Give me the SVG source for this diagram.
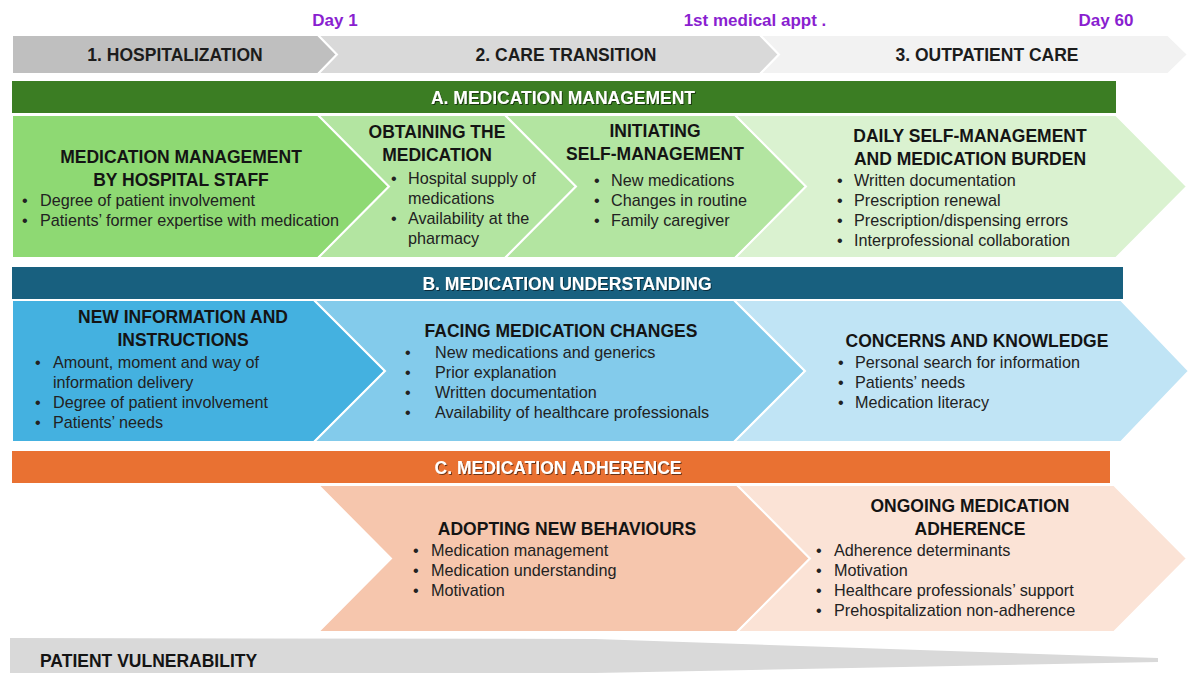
<svg xmlns="http://www.w3.org/2000/svg" width="1190" height="673" viewBox="0 0 1190 673">
  <defs>
    <filter id="shadow" x="-5%" y="-30%" width="110%" height="160%">
      <feDropShadow dx="1" dy="1" stdDeviation="0.7" flood-color="#000" flood-opacity="0.55"/>
    </filter>
    <style>
      text { font-family: "Liberation Sans", Arial, sans-serif; fill: #141414; }
      .day { font-size: 17px; font-weight: bold; fill: #8a1fd0; text-anchor: middle; }
      .tl { font-size: 17.5px; font-weight: bold; text-anchor: middle; fill: #1c1c1c; }
      .band { font-size: 17.5px; font-weight: bold; text-anchor: middle; fill: #ffffff; filter: url(#shadow); }
      .h { font-size: 17.5px; font-weight: bold; text-anchor: middle; }
      .b { font-size: 16.2px; fill: #222; }
      .sep { stroke: #ffffff; stroke-width: 2; stroke-linejoin: miter; }
    </style>
  </defs>

  <rect x="0" y="0" width="1190" height="673" fill="#ffffff"/>

  <!-- milestones -->
  <g id="milestones">
    <text class="day" x="335" y="26">Day 1</text>
    <text class="day" x="755" y="26">1st medical appt .</text>
    <text class="day" x="1106" y="26">Day 60</text>
  </g>

  <!-- phase timeline -->
  <g id="phase-hospitalization">
    <polygon class="sep" fill="#bfbfbf" points="12,35 318,35 337,54.5 318,74 12,74"/>
    <text class="tl" x="175" y="61">1. HOSPITALIZATION</text>
  </g>
  <g id="phase-care-transition">
    <polygon class="sep" fill="#d9d9d9" points="318,35 760,35 779,54.5 760,74 318,74 337,54.5"/>
    <text class="tl" x="566" y="61">2. CARE TRANSITION</text>
  </g>
  <g id="phase-outpatient">
    <polygon class="sep" fill="#f2f2f2" points="760,35 1168,35 1188,54.5 1168,74 760,74 779,54.5"/>
    <text class="tl" x="987" y="61">3. OUTPATIENT CARE</text>
  </g>

  <!-- A. medication management -->
  <g id="band-a">
    <rect x="12" y="81" width="1104" height="32" fill="#3b7d23"/>
    <text class="band" x="563" y="104">A. MEDICATION MANAGEMENT</text>
  </g>
  <g id="a1">
    <polygon class="sep" fill="#8ed973" points="12,115 318,115 389,186.5 318,258 12,258"/>
    <text class="h" x="181" y="163">MEDICATION MANAGEMENT</text>
    <text class="h" x="181" y="186">BY HOSPITAL STAFF</text>
    <text class="b" y="206"><tspan x="22">•</tspan><tspan x="40">Degree of patient involvement</tspan></text>
    <text class="b" y="226"><tspan x="22">•</tspan><tspan x="40">Patients’ former expertise with medication</tspan></text>
  </g>
  <g id="a2">
    <polygon class="sep" fill="#b3e5a1" points="318,115 505,115 576,186.5 505,258 318,258 389,186.5"/>
    <text class="h" x="437" y="138">OBTAINING THE</text>
    <text class="h" x="437" y="161">MEDICATION</text>
    <text class="b" y="184"><tspan x="391">•</tspan><tspan x="408">Hospital supply of</tspan></text>
    <text class="b" x="408" y="204">medications</text>
    <text class="b" y="224"><tspan x="391">•</tspan><tspan x="408">Availability at the</tspan></text>
    <text class="b" x="408" y="244">pharmacy</text>
  </g>
  <g id="a3">
    <polygon class="sep" fill="#b3e5a1" points="505,115 735,115 806,186.5 735,258 505,258 576,186.5"/>
    <text class="h" x="655" y="137">INITIATING</text>
    <text class="h" x="655" y="160">SELF-MANAGEMENT</text>
    <text class="b" y="186"><tspan x="594">•</tspan><tspan x="611">New medications</tspan></text>
    <text class="b" y="206"><tspan x="594">•</tspan><tspan x="611">Changes in routine</tspan></text>
    <text class="b" y="226"><tspan x="594">•</tspan><tspan x="611">Family caregiver</tspan></text>
  </g>
  <g id="a4">
    <polygon class="sep" fill="#daf2d0" points="735,115 1116,115 1187,186.5 1116,258 735,258 806,186.5"/>
    <text class="h" x="970" y="142">DAILY SELF-MANAGEMENT</text>
    <text class="h" x="970" y="165">AND MEDICATION BURDEN</text>
    <text class="b" y="186"><tspan x="837">•</tspan><tspan x="854">Written documentation</tspan></text>
    <text class="b" y="206"><tspan x="837">•</tspan><tspan x="854">Prescription renewal</tspan></text>
    <text class="b" y="226"><tspan x="837">•</tspan><tspan x="854">Prescription/dispensing errors</tspan></text>
    <text class="b" y="246"><tspan x="837">•</tspan><tspan x="854">Interprofessional collaboration</tspan></text>
  </g>

  <!-- B. medication understanding -->
  <g id="band-b">
    <rect x="12" y="267" width="1111" height="32" fill="#18607f"/>
    <text class="band" x="567" y="290">B. MEDICATION UNDERSTANDING</text>
  </g>
  <g id="b1">
    <polygon class="sep" fill="#44b1e0" points="12,300 314,300 385,371 314,442 12,442"/>
    <text class="h" x="183" y="323">NEW INFORMATION AND</text>
    <text class="h" x="183" y="346">INSTRUCTIONS</text>
    <text class="b" y="368"><tspan x="35">•</tspan><tspan x="53">Amount, moment and way of</tspan></text>
    <text class="b" x="53" y="388">information delivery</text>
    <text class="b" y="408"><tspan x="35">•</tspan><tspan x="53">Degree of patient involvement</tspan></text>
    <text class="b" y="428"><tspan x="35">•</tspan><tspan x="53">Patients’ needs</tspan></text>
  </g>
  <g id="b2">
    <polygon class="sep" fill="#83cbeb" points="314,300 734,300 805,371 734,442 314,442 385,371"/>
    <text class="h" x="561" y="337">FACING MEDICATION CHANGES</text>
    <text class="b" y="358"><tspan x="405">•</tspan><tspan x="435">New medications and generics</tspan></text>
    <text class="b" y="378"><tspan x="405">•</tspan><tspan x="435">Prior explanation</tspan></text>
    <text class="b" y="398"><tspan x="405">•</tspan><tspan x="435">Written documentation</tspan></text>
    <text class="b" y="418"><tspan x="405">•</tspan><tspan x="435">Availability of healthcare professionals</tspan></text>
  </g>
  <g id="b3">
    <polygon class="sep" fill="#c0e4f5" points="734,300 1121,300 1189,371 1121,442 734,442 805,371"/>
    <text class="h" x="977" y="347">CONCERNS AND KNOWLEDGE</text>
    <text class="b" y="368"><tspan x="838">•</tspan><tspan x="855">Personal search for information</tspan></text>
    <text class="b" y="388"><tspan x="838">•</tspan><tspan x="855">Patients’ needs</tspan></text>
    <text class="b" y="408"><tspan x="838">•</tspan><tspan x="855">Medication literacy</tspan></text>
  </g>

  <!-- C. medication adherence -->
  <g id="band-c">
    <rect x="12" y="451" width="1098" height="32" fill="#e97132"/>
    <text class="band" x="558" y="474">C. MEDICATION ADHERENCE</text>
  </g>
  <g id="c1">
    <polygon class="sep" fill="#f6c6ad" points="318,485 737,485 810,558.5 737,632 318,632 391,558.5"/>
    <text class="h" x="567" y="535">ADOPTING NEW BEHAVIOURS</text>
    <text class="b" y="556"><tspan x="413">•</tspan><tspan x="431">Medication management</tspan></text>
    <text class="b" y="576"><tspan x="413">•</tspan><tspan x="431">Medication understanding</tspan></text>
    <text class="b" y="596"><tspan x="413">•</tspan><tspan x="431">Motivation</tspan></text>
  </g>
  <g id="c2">
    <polygon class="sep" fill="#fbe3d6" points="737,485 1114,485 1187,558.5 1114,632 737,632 810,558.5"/>
    <text class="h" x="970" y="512">ONGOING MEDICATION</text>
    <text class="h" x="970" y="535">ADHERENCE</text>
    <text class="b" y="556"><tspan x="816">•</tspan><tspan x="834">Adherence determinants</tspan></text>
    <text class="b" y="576"><tspan x="816">•</tspan><tspan x="834">Motivation</tspan></text>
    <text class="b" y="596"><tspan x="816">•</tspan><tspan x="834">Healthcare professionals’ support</tspan></text>
    <text class="b" y="616"><tspan x="816">•</tspan><tspan x="834">Prehospitalization non-adherence</tspan></text>
  </g>

  <!-- tapering vulnerability wedge -->
  <g id="vulnerability">
    <polygon fill="#d9d9d9" points="10,638 595,639 1158,658 1158,662 595,673 10,690"/>
    <text class="h" x="40" y="667" style="text-anchor:start">PATIENT VULNERABILITY</text>
  </g>
</svg>
